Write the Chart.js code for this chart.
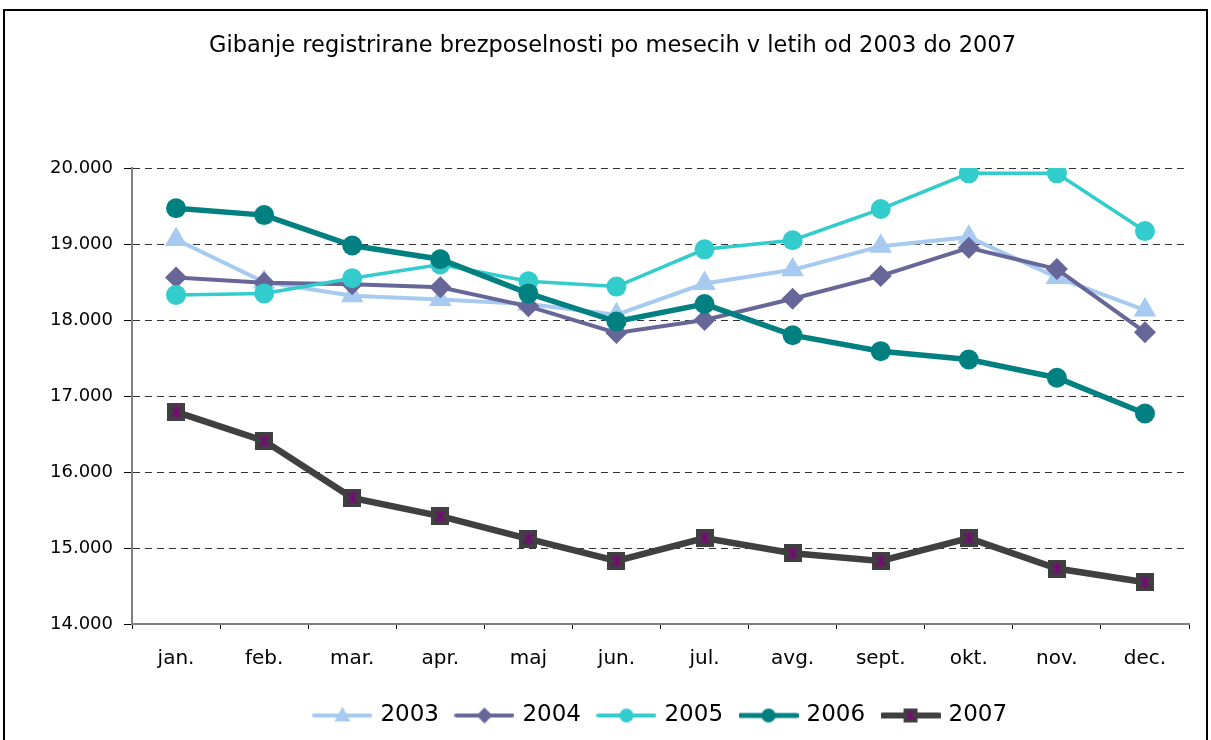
<!DOCTYPE html>
<html>
<head>
<meta charset="utf-8">
<script src="https://cdn.jsdelivr.net/npm/chart.js@4"></script>
<style>
  html, body { margin: 0; padding: 0; background: #fff; }
  #wrap { position: relative; width: 1211px; height: 740px; }
</style>
</head>
<body>
<div id="wrap"><canvas id="chart" width="1211" height="740"></canvas></div>
<script>
// podatki
var months = ['jan.', 'feb.', 'mar.', 'apr.', 'maj', 'jun.', 'jul.', 'avg.', 'sept.', 'okt.', 'nov.', 'dec.'];
var years = ['2003', '2004', '2005', '2006', '2007'];
var v2003 = [19060, 18500, 18320, 18270, 18210, 18070, 18480, 18660, 18970, 19090, 18560, 18130];
var v2004 = [18560, 18490, 18470, 18430, 18180, 17830, 18000, 18280, 18580, 18950, 18670, 17840];
var v2005 = [18330, 18350, 18550, 18730, 18510, 18440, 18930, 19050, 19460, 19930, 19930, 19170];
var v2006 = [19470, 19380, 18980, 18800, 18350, 17980, 18210, 17800, 17590, 17480, 17240, 16770];
var v2007 = [16790, 16410, 15660, 15420, 15120, 14830, 15130, 14930, 14830, 15130, 14730, 14550];
var yTicks = [14000, 15000, 16000, 17000, 18000, 19000, 20000];

var FONT = "Tahoma, 'DejaVu Sans', sans-serif";
var colors = ['#A6CAF0', '#666699', '#33CCCC', '#008080', '#404040'];

// oznaka za 2007: temen kvadrat z vijolicno zvezdico
function starSquare(size) {
  var c = document.createElement('canvas');
  c.width = size; c.height = size;
  var g = c.getContext('2d');
  g.fillStyle = '#404040';
  g.fillRect(0, 0, size, size);
  g.strokeStyle = '#800080';
  g.lineWidth = 1.5;
  var m = size * 0.22;
  g.beginPath();
  g.moveTo(m, m); g.lineTo(size - m, size - m);
  g.moveTo(size - m, m); g.lineTo(m, size - m);
  g.moveTo(size / 2, m * 0.7); g.lineTo(size / 2, size - m * 0.7);
  g.stroke();
  return c;
}

// ikone za legendo (crta + oznaka)
function legendIcon(i) {
  var c = document.createElement('canvas');
  c.width = 60; c.height = 24;
  var g = c.getContext('2d');
  var cx = 30, cy = 12;
  g.strokeStyle = colors[i];
  g.lineWidth = [4, 4, 4, 5, 6][i];
  g.lineCap = 'round';
  g.beginPath(); g.moveTo(2, cy); g.lineTo(58, cy); g.stroke();
  g.fillStyle = colors[i];
  g.beginPath();
  if (i === 0) {
    g.moveTo(cx, cy - 9); g.lineTo(cx + 8, cy + 6); g.lineTo(cx - 8, cy + 6);
  } else if (i === 1) {
    g.moveTo(cx, cy - 8); g.lineTo(cx + 8, cy); g.lineTo(cx, cy + 8); g.lineTo(cx - 8, cy);
  } else if (i === 2 || i === 3) {
    g.arc(cx, cy, 7, 0, Math.PI * 2);
  }
  g.closePath();
  g.fill();
  if (i === 4) g.drawImage(starSquare(14), cx - 7, cy - 7);
  return c;
}

var marker2007 = starSquare(18);

// okvir okrog grafa
var framePlugin = {
  id: 'frame',
  beforeDraw: function(chart) {
    var ctx = chart.ctx;
    ctx.save();
    ctx.fillStyle = '#fff';
    ctx.fillRect(0, 0, chart.width, chart.height);
    ctx.strokeStyle = '#000';
    ctx.lineWidth = 2;
    ctx.beginPath();
    ctx.moveTo(4, 745); ctx.lineTo(4, 10); ctx.lineTo(1207, 10); ctx.lineTo(1207, 745);
    ctx.stroke();
    ctx.restore();
  }
};

// legenda je v izvirniku centrirana pod risalno povrsino
var legendShift = {
  id: 'legendShift',
  afterLayout: function(chart) {
    var lg = chart.legend;
    var ca = chart.chartArea;
    var w = lg.right - lg.left;
    lg.left = (ca.left + ca.right) / 2 + 1 - w / 2;
    lg.right = lg.left + w;
  }
};

var context = document.getElementById('chart').getContext('2d');
var myChart = new Chart(context, {
  type: 'line',
  data: {
    labels: months,
    datasets: [
      { label: years[0], data: v2003, borderColor: colors[0], backgroundColor: colors[0],
        borderWidth: 4, pointStyle: 'triangle', pointRadius: 13, pointBorderWidth: 0, order: 5 },
      { label: years[1], data: v2004, borderColor: colors[1], backgroundColor: colors[1],
        borderWidth: 4, pointStyle: 'rectRot', pointRadius: 11, pointBorderWidth: 0, order: 4 },
      { label: years[2], data: v2005, borderColor: colors[2], backgroundColor: colors[2],
        borderWidth: 3.5, pointStyle: 'circle', pointRadius: 10, pointBorderWidth: 0, order: 3 },
      { label: years[3], data: v2006, borderColor: colors[3], backgroundColor: colors[3],
        borderWidth: 5.5, pointStyle: 'circle', pointRadius: 10, pointBorderWidth: 0, order: 2 },
      { label: years[4], data: v2007, borderColor: colors[4], backgroundColor: colors[4],
        borderWidth: 6.5, pointStyle: marker2007, pointRadius: 9, pointBorderWidth: 0, order: 1 }
    ]
  },
  options: {
    responsive: false,
    animation: false,
    layout: { padding: { left: 36, right: 22, top: 0, bottom: 3 } },
    elements: { line: { tension: 0 } },
    plugins: {
      title: {
        display: true,
        text: 'Gibanje registrirane brezposelnosti po mesecih v letih od 2003 do 2007',
        color: '#000',
        font: { family: FONT, size: 22.5, weight: 'normal', lineHeight: 1.2 },
        padding: { top: 33, bottom: 108 }
      },
      legend: {
        position: 'bottom',
        labels: {
          usePointStyle: true,
          pointStyleWidth: 53,
          padding: 19,
          color: '#000',
          font: { family: FONT, size: 23 },
          generateLabels: function(chart) {
            return chart.data.datasets.map(function(ds, i) {
              return { text: ds.label, pointStyle: legendIcon(i), datasetIndex: i,
                       hidden: false, fontColor: '#000', lineWidth: 0,
                       strokeStyle: 'rgba(0,0,0,0)', fillStyle: 'rgba(0,0,0,0)' };
            });
          }
        }
      },
      tooltip: { enabled: false }
    },
    scales: {
      x: {
        offset: true,
        afterFit: function(s) { s.height = 61; },
        grid: { offset: true, drawOnChartArea: false, drawTicks: true, tickLength: 5, color: '#000', lineWidth: 1 },
        border: { color: '#808080', width: 2 },
        ticks: { color: '#000', padding: 18, font: { family: FONT, size: 20 } }
      },
      y: {
        min: 14000, max: 20000,
        afterFit: function(s) { s.width = 96; },
        afterBuildTicks: function(s) { s.ticks = yTicks.map(function(v) { return { value: v }; }); },
        grid: { color: '#333', lineWidth: 1, tickLength: 8, tickColor: '#000', tickBorderDash: [] },
        border: { color: '#808080', width: 2, dash: [7, 5] },
        ticks: {
          color: '#000', padding: 11, font: { family: FONT, size: 18 },
          callback: function(v) { return v.toLocaleString('de-DE'); }
        }
      }
    }
  },
  plugins: [framePlugin, legendShift]
});
</script>
</body>
</html>
